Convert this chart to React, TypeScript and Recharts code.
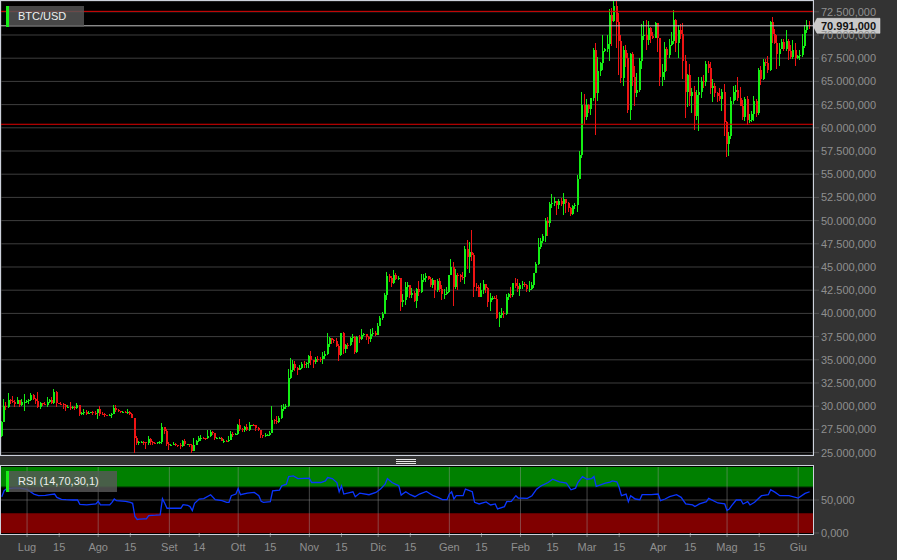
import React from 'react';
import { ComposedChart, Bar, Line, XAxis, YAxis, CartesianGrid, ReferenceLine, ReferenceArea } from 'recharts';

// ---------- data (prices in thousands of USD, one candle per day from START_DATE) ----------
const START_DATE = '2023-06-20';
const FIRST_OPEN = 26.84;

const closes = [
  28.31, 30.01, 29.89, 30.70, 30.55, 30.47, 30.27, 30.69, 30.08, 30.45, 30.48,
  30.59, 30.62, 31.16, 30.77, 30.51, 29.90, 30.35, 30.29, 30.17, 30.41, 30.62, 30.39, 31.48, 30.32, 30.29, 30.25, 30.14, 29.86, 29.91, 29.80, 29.91, 29.80, 30.08, 29.18, 29.23, 29.35, 29.21, 29.32, 29.36, 29.28, 29.23,
  29.70, 29.18, 29.17, 29.07, 29.04, 29.04, 29.18, 29.77, 29.58, 29.43, 29.40, 29.42, 29.31, 29.40, 29.17, 28.70, 26.62, 26.05, 26.10, 26.19, 26.12, 26.05, 26.43, 26.16, 26.05, 26.01, 26.09, 26.10, 27.73, 27.30, 25.93,
  25.80, 25.87, 25.97, 25.81, 25.78, 25.75, 26.24, 25.90, 25.90, 25.83, 25.16, 25.83, 26.23, 26.53, 26.60, 26.57, 26.53, 26.76, 27.21, 27.13, 26.57, 26.58, 26.58, 26.25, 26.30, 26.22, 26.37, 27.03, 26.91, 26.97,
  27.99, 27.50, 27.43, 27.79, 27.41, 27.95, 27.97, 27.94, 27.60, 27.39, 26.87, 26.76, 26.86, 26.86, 27.16, 28.52, 28.42, 28.33, 28.72, 29.68, 29.92, 30.00, 33.09, 33.90, 34.50, 34.16, 33.91, 34.09, 34.54, 34.50, 34.67,
  35.44, 34.94, 34.73, 35.08, 35.05, 35.04, 35.43, 35.65, 36.70, 37.31, 37.13, 37.07, 36.50, 35.54, 37.88, 36.15, 36.60, 36.59, 37.39, 37.47, 35.81, 37.42, 37.29, 37.72, 37.80, 37.48, 37.25, 37.83, 37.85, 37.71,
  38.69, 39.47, 39.98, 41.98, 44.08, 43.77, 43.29, 44.17, 43.73, 43.79, 41.24, 41.45, 42.89, 43.02, 41.93, 42.24, 41.36, 42.62, 42.27, 43.65, 43.86, 43.99, 43.74, 43.02, 43.61, 42.52, 43.44, 42.58, 42.07, 42.14, 42.28,
  44.18, 44.95, 42.85, 44.18, 44.16, 43.97, 43.93, 46.97, 46.12, 46.66, 46.34, 42.85, 42.84, 41.73, 42.51, 43.15, 42.74, 41.26, 41.62, 41.66, 41.58, 39.51, 39.85, 40.08, 39.93, 41.81, 42.12, 42.03, 43.30, 42.94, 42.58,
  43.08, 43.20, 43.01, 42.58, 42.66, 43.09, 44.33, 45.30, 47.15, 47.77, 48.29, 49.96, 49.70, 51.80, 51.94, 52.16, 51.66, 52.12, 51.78, 52.28, 51.85, 51.32, 50.75, 51.57, 51.73, 54.48, 57.05, 62.50, 61.20,
  62.44, 62.03, 63.17, 68.33, 63.80, 66.11, 66.93, 68.30, 68.50, 69.02, 72.12, 71.48, 73.08, 71.40, 69.40, 65.32, 68.39, 67.55, 61.93, 67.90, 65.50, 63.80, 64.10, 67.21, 69.90, 69.99, 69.45, 70.78, 69.89, 69.70, 71.33,
  69.70, 65.45, 65.98, 68.50, 67.84, 68.90, 69.36, 71.63, 69.14, 70.59, 70.06, 67.20, 63.82, 65.74, 63.42, 63.81, 61.28, 63.51, 63.84, 64.99, 64.93, 66.84, 66.41, 64.29, 64.50, 63.76, 63.42, 63.11, 63.84, 60.64,
  58.25, 59.12, 62.89, 63.89, 64.03, 63.16, 62.33, 61.19, 63.05, 60.79, 60.79, 61.45, 62.90, 61.55, 66.27, 65.23, 67.05, 66.94, 66.28, 71.45, 70.14, 69.12, 67.93, 68.53, 69.27, 68.51, 69.40, 68.30, 67.60, 68.35, 67.50,
  67.76, 67.82, 68.80, 70.57, 71.08, 70.99,
];

const highs = [
  28.40, 30.80, 30.50, 31.40, 30.80, 31.05, 30.65, 31.00, 30.70, 30.82, 31.28,
  30.66, 30.78, 31.38, 31.32, 30.88, 31.50, 30.44, 30.38, 30.43, 31.03, 30.80, 30.97, 31.80, 31.63, 30.39, 30.44, 30.33, 30.23, 30.18, 30.40, 30.05, 30.00, 30.33, 30.10, 29.38, 29.67, 29.57, 29.53, 29.41, 29.45, 29.50,
  29.74, 30.03, 29.40, 29.30, 29.10, 29.17, 29.23, 30.18, 30.10, 29.70, 29.53, 29.47, 29.45, 29.66, 29.47, 29.25, 28.75, 26.80, 26.28, 26.26, 26.22, 26.13, 26.78, 26.55, 26.30, 26.10, 26.17, 26.20, 28.14, 27.75, 27.49,
  26.12, 25.97, 26.13, 26.08, 25.87, 26.00, 26.40, 26.43, 25.93, 25.98, 25.88, 26.54, 26.38, 26.80, 26.85, 26.67, 26.62, 27.41, 27.46, 27.37, 27.15, 26.72, 26.63, 26.72, 26.42, 26.38, 26.81, 27.30, 27.22, 27.08,
  28.05, 28.58, 27.67, 27.83, 28.12, 28.25, 28.02, 28.09, 27.99, 27.73, 27.48, 26.91, 27.07, 26.97, 27.29, 30.00, 28.61, 28.96, 28.89, 30.17, 30.29, 30.20, 34.00, 35.15, 35.00, 34.82, 34.24, 34.46, 34.73, 34.86, 34.72,
  35.57, 35.98, 34.94, 35.25, 35.37, 35.28, 35.89, 35.98, 37.93, 37.48, 37.40, 37.22, 37.39, 36.74, 37.92, 37.95, 36.67, 36.84, 37.44, 37.76, 37.55, 37.60, 37.62, 38.35, 37.90, 37.81, 37.56, 38.37, 38.40, 38.11,
  38.97, 39.68, 40.18, 42.21, 44.41, 44.27, 44.03, 44.64, 44.35, 44.04, 43.81, 42.05, 43.40, 43.40, 43.08, 42.69, 42.43, 42.74, 43.44, 44.24, 44.29, 44.37, 43.99, 43.92, 43.77, 43.60, 43.67, 43.77, 43.11, 42.58, 42.89,
  44.19, 45.90, 45.50, 44.77, 44.33, 44.21, 44.49, 47.22, 47.90, 47.65, 48.97, 46.50, 43.25, 43.07, 43.32, 43.56, 43.20, 42.89, 42.20, 41.85, 41.87, 42.00, 40.13, 40.53, 40.26, 42.14, 42.20, 42.80, 43.31, 43.84, 43.74,
  43.29, 43.47, 43.36, 43.12, 43.49, 43.38, 44.39, 45.58, 48.15, 48.14, 48.54, 50.28, 50.37, 52.04, 52.82, 52.57, 52.16, 52.33, 52.42, 52.96, 52.36, 52.00, 51.48, 51.68, 51.95, 54.91, 57.54, 63.91, 63.68,
  63.11, 62.60, 63.20, 68.55, 69.17, 67.64, 67.06, 69.95, 68.60, 69.96, 72.80, 72.88, 73.62, 73.65, 72.36, 70.00, 68.80, 68.92, 68.11, 68.03, 68.20, 66.63, 65.95, 67.52, 71.15, 71.51, 71.67, 71.47, 70.91, 70.30, 71.38,
  71.33, 69.70, 66.87, 69.23, 68.72, 69.54, 70.28, 72.72, 71.69, 71.06, 71.23, 71.26, 67.89, 65.82, 66.87, 64.34, 64.48, 64.11, 65.45, 65.45, 65.72, 67.23, 67.21, 67.07, 65.28, 64.79, 63.91, 64.32, 64.23, 64.70,
  60.78, 59.60, 63.32, 64.49, 64.61, 65.49, 64.37, 62.98, 63.29, 63.43, 61.48, 61.82, 63.45, 63.10, 66.47, 66.71, 67.38, 67.42, 67.69, 71.48, 71.95, 70.62, 70.04, 69.18, 69.55, 69.54, 70.57, 69.54, 68.88, 69.45, 69.19,
  67.84, 68.36, 70.14, 71.03, 71.67, 71.55,
];

const lows = [
  26.66, 28.27, 29.60, 29.82, 30.25, 30.30, 29.93, 30.23, 29.90, 30.04, 29.50,
  30.32, 30.20, 30.57, 30.65, 30.21, 29.85, 29.70, 30.05, 30.10, 29.95, 30.30, 30.20, 30.25, 29.95, 30.25, 30.08, 29.67, 29.52, 29.77, 29.60, 29.72, 29.63, 29.75, 28.92, 29.04, 29.10, 29.10, 29.13, 29.26, 29.04, 29.10,
  28.60, 28.95, 29.10, 28.80, 28.95, 28.98, 28.70, 29.11, 29.38, 29.33, 29.25, 29.36, 29.26, 29.12, 29.10, 28.70, 24.95, 25.80, 25.80, 26.00, 25.85, 25.37, 25.80, 25.87, 25.78, 25.98, 25.97, 25.88, 25.93, 27.03, 25.68,
  25.33, 25.73, 25.81, 25.66, 25.57, 25.40, 25.63, 25.66, 25.80, 25.58, 24.93, 25.13, 25.77, 26.13, 26.24, 26.47, 26.39, 26.42, 26.68, 26.87, 26.37, 26.50, 26.52, 26.21, 26.01, 26.09, 26.11, 26.34, 26.66, 26.89,
  26.95, 27.28, 27.17, 27.22, 27.38, 27.35, 27.86, 27.83, 27.28, 27.30, 26.56, 26.56, 26.69, 26.82, 26.84, 27.11, 28.09, 28.13, 28.18, 28.63, 29.49, 29.68, 29.91, 32.88, 33.71, 33.75, 33.39, 33.86, 34.05, 34.08, 34.08,
  34.10, 34.47, 34.12, 34.55, 34.74, 34.74, 34.54, 35.12, 35.54, 36.33, 36.74, 36.76, 36.34, 34.85, 35.36, 35.63, 35.72, 36.19, 36.45, 36.96, 35.64, 35.78, 36.80, 37.17, 37.61, 37.16, 36.75, 36.88, 37.61, 37.52,
  37.62, 38.65, 39.28, 39.96, 41.45, 43.36, 42.82, 43.16, 43.63, 43.59, 40.22, 40.67, 40.86, 41.79, 41.68, 41.71, 41.26, 40.55, 41.87, 42.21, 43.33, 43.43, 43.59, 42.81, 42.76, 41.68, 42.31, 42.32, 41.44, 41.56, 41.97,
  42.20, 44.18, 40.75, 42.63, 42.50, 43.40, 43.57, 43.20, 44.75, 44.35, 45.61, 41.75, 42.44, 41.72, 41.72, 42.05, 42.19, 40.68, 40.28, 41.45, 41.50, 39.44, 38.55, 39.53, 39.49, 39.83, 41.43, 41.62, 41.80, 42.72, 42.30,
  41.88, 42.59, 42.89, 42.35, 42.26, 42.57, 42.79, 44.33, 45.25, 46.89, 47.55, 47.71, 48.30, 49.26, 51.32, 51.60, 50.63, 51.23, 51.56, 50.63, 50.80, 50.93, 50.54, 50.59, 51.28, 50.92, 54.45, 56.74, 60.37,
  60.80, 61.60, 61.33, 62.90, 59.22, 62.85, 65.57, 66.18, 68.15, 68.20, 67.22, 68.78, 71.38, 68.60, 65.64, 64.78, 64.55, 66.60, 61.56, 60.80, 64.53, 62.39, 63.29, 63.85, 66.38, 69.51, 68.43, 68.90, 69.11, 69.56, 69.63,
  68.14, 64.54, 64.50, 65.11, 66.11, 67.49, 68.85, 69.06, 68.21, 67.52, 69.59, 65.25, 61.10, 62.21, 62.33, 61.62, 59.77, 60.83, 59.65, 63.17, 64.28, 64.55, 65.87, 63.64, 62.82, 63.32, 62.79, 62.92, 61.76, 59.12,
  56.90, 56.94, 58.82, 62.59, 62.96, 62.86, 62.30, 60.88, 60.68, 60.25, 60.50, 60.62, 60.78, 61.14, 61.33, 64.63, 65.12, 66.64, 65.93, 66.08, 69.19, 68.98, 66.32, 66.65, 68.53, 68.32, 68.28, 67.32, 67.45, 67.41, 66.71,
  67.40, 67.33, 67.61, 68.58, 70.24, 70.60,
];

const LAST_PRICE = 70.991;
const upperLevel = 72.55;
const lowerLevel = 60.38;

const priceTicks = [25, 27.5, 30, 32.5, 35, 37.5, 40, 42.5, 45, 47.5, 50, 52.5, 55, 57.5, 60, 62.5, 65, 67.5, 70, 72.5];

const tickDates = [
  '2023-07-01', '2023-07-15', '2023-08-01', '2023-08-15', '2023-09-01', '2023-09-14', '2023-10-01', '2023-10-15',
  '2023-11-01', '2023-11-15', '2023-12-01', '2023-12-15', '2024-01-01', '2024-01-15', '2024-02-01', '2024-02-15',
  '2024-03-01', '2024-03-15', '2024-04-01', '2024-04-15', '2024-05-01', '2024-05-15', '2024-06-01',
];
const tickLabels = ['Lug', '15', 'Ago', '15', 'Set', '14', 'Ott', '15', 'Nov', '15', 'Dic', '15', 'Gen', '15', 'Feb', '15', 'Mar', '15', 'Apr', '15', 'Mag', '15', 'Giu'];
const monthStartDates = [
  '2023-07-01', '2023-08-01', '2023-09-01', '2023-10-01', '2023-11-01', '2023-12-01',
  '2024-01-01', '2024-02-01', '2024-03-01', '2024-04-01', '2024-05-01', '2024-06-01',
];

// RSI (14), at day offsets from START_DATE
const rsiDays = [
  0, 1, 2, 5, 8, 11, 14, 16, 19, 21, 23, 24, 26, 28, 31, 33, 34, 37, 41, 42, 43, 47, 48, 49, 50, 54, 56, 57, 58, 59,
  60, 62, 63, 64, 67, 69, 70, 71, 72, 75, 78, 79, 81, 82, 83, 84, 86, 88, 91, 93, 96, 98, 99, 100, 102, 103, 104, 107, 110, 112,
  113, 114, 117, 118, 121, 122, 124, 125, 127, 129, 134, 135, 139, 141, 142, 144, 146, 147, 148, 149, 153, 154, 156, 160, 163, 165, 167, 168, 170, 173,
  174, 176, 178, 180, 182, 185, 188, 190, 192, 194, 195, 196, 197, 198, 201, 202, 205, 206, 208, 211, 213, 215, 216, 219, 220, 222, 224, 225, 229, 231,
  233, 235, 238, 240, 243, 246, 248, 250, 251, 253, 255, 257, 258, 259, 263, 265, 266, 268, 269, 270, 272, 273, 274, 275, 276, 278, 279, 283, 286, 287,
  289, 291, 294, 296, 298, 301, 302, 304, 307, 308, 312, 315, 316, 317, 318, 320, 322, 323, 325, 326, 328, 331, 334, 335, 337, 339, 343, 347, 350, 352,
];
const rsiValues = [
  55, 64, 67, 68, 68, 66, 59, 56.5, 57, 58, 59, 54, 51, 50.5, 50, 50, 43.5, 42.5, 44, 48, 42.5, 42.5, 46.5, 51.5, 49, 48, 46.5, 45, 25, 20.5,
  21, 21.5, 21.5, 26.5, 27, 27.5, 52, 45, 37.5, 37.5, 37.5, 43, 42, 40, 34, 45, 51.5, 52, 58, 50.5, 49, 46.5, 46.5, 56.5, 59, 67.5, 58, 60.5, 61.5, 56.5,
  48, 46.5, 47.5, 64, 65, 71.5, 74, 85.5, 86.5, 82.5, 83, 76.5, 76.5, 79, 84, 82.5, 76.5, 62.5, 71.5, 59, 62.5, 55, 60.5, 58, 61.5, 66.5, 74, 82.5, 76.5, 71.5,
  57.5, 62.5, 58, 55, 59, 63, 56.5, 54, 50.5, 50.5, 59, 62.5, 51.5, 56.5, 56.5, 66.5, 62.5, 46.5, 44, 47, 42.5, 44, 36.5, 40, 47.5, 48, 56.5, 53, 52.5, 56.5,
  66.5, 71.5, 76.5, 81.5, 77.5, 75.5, 65.5, 68, 76.5, 85.5, 81.5, 82.5, 85.5, 70.5, 75.5, 77, 79, 77.5, 69, 56.5, 59, 47.5, 56.5, 54, 51.5, 50.5, 58, 58, 59, 49,
  51.5, 55, 58, 54, 44, 42.5, 40, 44, 47.5, 52.5, 45.5, 44, 34, 36.5, 41.5, 50, 50, 44, 47.5, 42.5, 46.5, 56.5, 58, 65.5, 61.5, 56.5, 56.5, 53, 60, 62.5,
];

const rsiTicks = [0, 50];
const RSI_UPPER = 70;
const RSI_LOWER = 30;

// ---------- helpers ----------
const DAY_MS = 86400000;
const dayIndex = (s: string) => Math.round((Date.parse(s) - Date.parse(START_DATE)) / DAY_MS);
const tickDays = tickDates.map(dayIndex);
const monthStartDays = monthStartDates.map(dayIndex);

function fmtIt(v: number): string {
  const fixed = Math.abs(v).toFixed(3);
  const [int, dec] = fixed.split('.');
  const grouped = int.replace(/\B(?=(\d{3})+(?!\d))/g, '.');
  return (v < 0 ? '-' : '') + grouped + ',' + dec;
}
const fmtPrice = (v: number) => fmtIt(Math.round(v * 1000));

const candles = closes.map((c, i) => ({
  d: i,
  open: i === 0 ? FIRST_OPEN : closes[i - 1],
  high: highs[i],
  low: lows[i],
  close: c,
  range: [lows[i], highs[i]],
}));
const rsiData = rsiDays.map((d, i) => ({ d, rsi: rsiValues[i] }));

const X_DOMAIN: [number, number] = [-0.35, 353.45];
const PRICE_DOMAIN: [number, number] = [24.741, 73.664];

const GREEN = '#14ee14';
const RED = '#ee1414';
const AXIS_TEXT = '#8f8f8f';
const FONT = '"Liberation Sans", Arial, Helvetica, sans-serif';

const Candle = (props: any) => {
  const { x, y, width, height, payload } = props;
  if (x == null || y == null || !payload) return null;
  const { open, close, high, low } = payload;
  const yHigh = Math.min(y, y + height);
  const yLow = Math.max(y, y + height);
  const span = high - low;
  const ppu = span > 0 ? (yLow - yHigh) / span : 0;
  const yOf = (v: number) => yHigh + (high - v) * ppu;
  const up = close >= open;
  const color = up ? GREEN : RED;
  const cx = x + width / 2;
  const bx = Math.round(cx - 1);
  const top = Math.min(yOf(open), yOf(close));
  const bot = Math.max(yOf(open), yOf(close));
  return (
    <g shapeRendering="crispEdges">
      <rect x={bx} y={yHigh} width={1} height={Math.max(1, yLow - yHigh)} fill={color} />
      <rect x={bx} y={top} width={2} height={Math.max(1, bot - top)} fill={color} />
    </g>
  );
};

const PriceTag = (props: any) => {
  const vb = props.viewBox || {};
  if (vb.y == null) return null;
  const right = (vb.x || 0) + (vb.width || 0);
  const cy = vb.y;
  const x0 = right;
  const pts = `${x0},${cy} ${x0 + 4},${cy - 7.5} ${x0 + 67},${cy - 7.5} ${x0 + 67},${cy + 7.5} ${x0 + 4},${cy + 7.5}`;
  return (
    <g>
      <polygon points={pts} fill="#c9c9c9" stroke="#e0e0e0" strokeWidth={0.5} />
      <text x={x0 + 8} y={cy + 4} fontSize={11} fontWeight="bold" fill="#111" fontFamily={FONT}>
        {fmtPrice(LAST_PRICE)}
      </text>
    </g>
  );
};

const labelBox = (left: number, top: number, width: number, text: string) => (
  <div
    style={{
      position: 'absolute', left, top, width, height: 21, background: 'rgba(88,88,88,0.82)',
      color: '#eeeeee', fontSize: 11, lineHeight: '21px', fontFamily: FONT, boxSizing: 'border-box', paddingLeft: 12,
    }}
  >
    <div style={{ position: 'absolute', left: 0, top: 0, width: 3, height: 21, background: '#18f018' }} />
    {text}
  </div>
);

export default function App() {
  return (
    <div
      style={{
        position: 'absolute', left: 0, top: 0, width: 897, height: 560, background: '#333333',
        fontFamily: FONT, overflow: 'hidden',
      }}
    >
      {/* panel backgrounds */}
      <div style={{ position: 'absolute', left: 0, top: 0, width: 814, height: 456, background: '#000' }} />
      <div style={{ position: 'absolute', left: 0, top: 465, width: 814, height: 70, background: '#000' }} />

      {/* RSI panel */}
      <div style={{ position: 'absolute', left: 0, top: 466 }}>
        <ComposedChart width={897} height={93} data={rsiData} margin={{ top: 1, right: 0, bottom: 0, left: 1 }}>
          <XAxis
            type="number" dataKey="d" domain={X_DOMAIN} allowDataOverflow ticks={tickDays} interval={0}
            height={26} axisLine={false} tickLine={{ stroke: '#777' }} tickSize={4} tickMargin={6}
            tick={{ fill: AXIS_TEXT, fontSize: 11 }}
            tickFormatter={(d: number) => tickLabels[tickDays.indexOf(d)] ?? ''}
          />
          <YAxis
            orientation="right" width={84} domain={[0, 100]} allowDataOverflow ticks={rsiTicks} interval={0}
            axisLine={false} tickLine={{ stroke: '#555' }} tickSize={6} tickMargin={2}
            tick={{ fill: AXIS_TEXT, fontSize: 11 }} tickFormatter={(v: number) => fmtIt(v)}
          />
          <ReferenceArea y1={RSI_UPPER} y2={100} fill="#008000" fillOpacity={1} stroke="none" />
          <ReferenceArea y1={0} y2={RSI_LOWER} fill="#800000" fillOpacity={1} stroke="none" />
          <ReferenceLine y={RSI_UPPER} stroke="#004d00" />
          {monthStartDays.map((d) => (
            <ReferenceLine key={d} x={d} stroke="#9a9a9a" strokeOpacity={0.45} />
          ))}
          <ReferenceLine y={50} stroke="#9a9a9a" strokeOpacity={0.45} />
          <Line type="linear" dataKey="rsi" stroke="#0b36ff" strokeWidth={1.3} dot={false} isAnimationActive={false} />
        </ComposedChart>
      </div>

      {/* price panel */}
      <div style={{ position: 'absolute', left: 0, top: 0 }}>
        <ComposedChart width={897} height={470} data={candles} margin={{ top: 1, right: 0, bottom: 15, left: 1 }}>
          <CartesianGrid stroke="#3e3e3e" />
          <XAxis
            type="number" dataKey="d" domain={X_DOMAIN} allowDataOverflow ticks={monthStartDays}
            height={0} tick={false} axisLine={false} tickLine={false}
          />
          <YAxis
            orientation="right" width={84} domain={PRICE_DOMAIN} allowDataOverflow ticks={priceTicks} interval={0}
            axisLine={false} tickLine={{ stroke: '#555' }} tickSize={6} tickMargin={2}
            tick={{ fill: AXIS_TEXT, fontSize: 11 }} tickFormatter={fmtPrice}
          />
          <Bar dataKey="range" barSize={2} shape={Candle} isAnimationActive={false} />
          <ReferenceLine y={upperLevel} stroke="#e00000" strokeWidth={1} />
          <ReferenceLine y={lowerLevel} stroke="#e00000" strokeWidth={1} />
          <ReferenceLine y={LAST_PRICE} stroke="#c4c4c4" strokeWidth={1} label={(p: any) => <PriceTag {...p} />} />
        </ComposedChart>
      </div>

      {/* panel borders */}
      <div style={{ position: 'absolute', left: 0, top: 0, width: 814, height: 456, border: '1px solid #cdd2dc', boxSizing: 'border-box', pointerEvents: 'none' }} />
      <div style={{ position: 'absolute', left: 0, top: 465, width: 814, height: 70, border: '1px solid #cdd2dc', boxSizing: 'border-box', pointerEvents: 'none' }} />

      {/* splitter handle */}
      <div style={{ position: 'absolute', left: 396, top: 459, width: 20, height: 1, background: '#e6e6e6' }} />
      <div style={{ position: 'absolute', left: 396, top: 461, width: 20, height: 1, background: '#e6e6e6' }} />
      <div style={{ position: 'absolute', left: 396, top: 463, width: 20, height: 1, background: '#e6e6e6' }} />

      {/* panel titles */}
      {labelBox(6, 6, 78, 'BTC/USD')}
      {labelBox(6, 471, 111, 'RSI (14,70,30,1)')}
    </div>
  );
}
